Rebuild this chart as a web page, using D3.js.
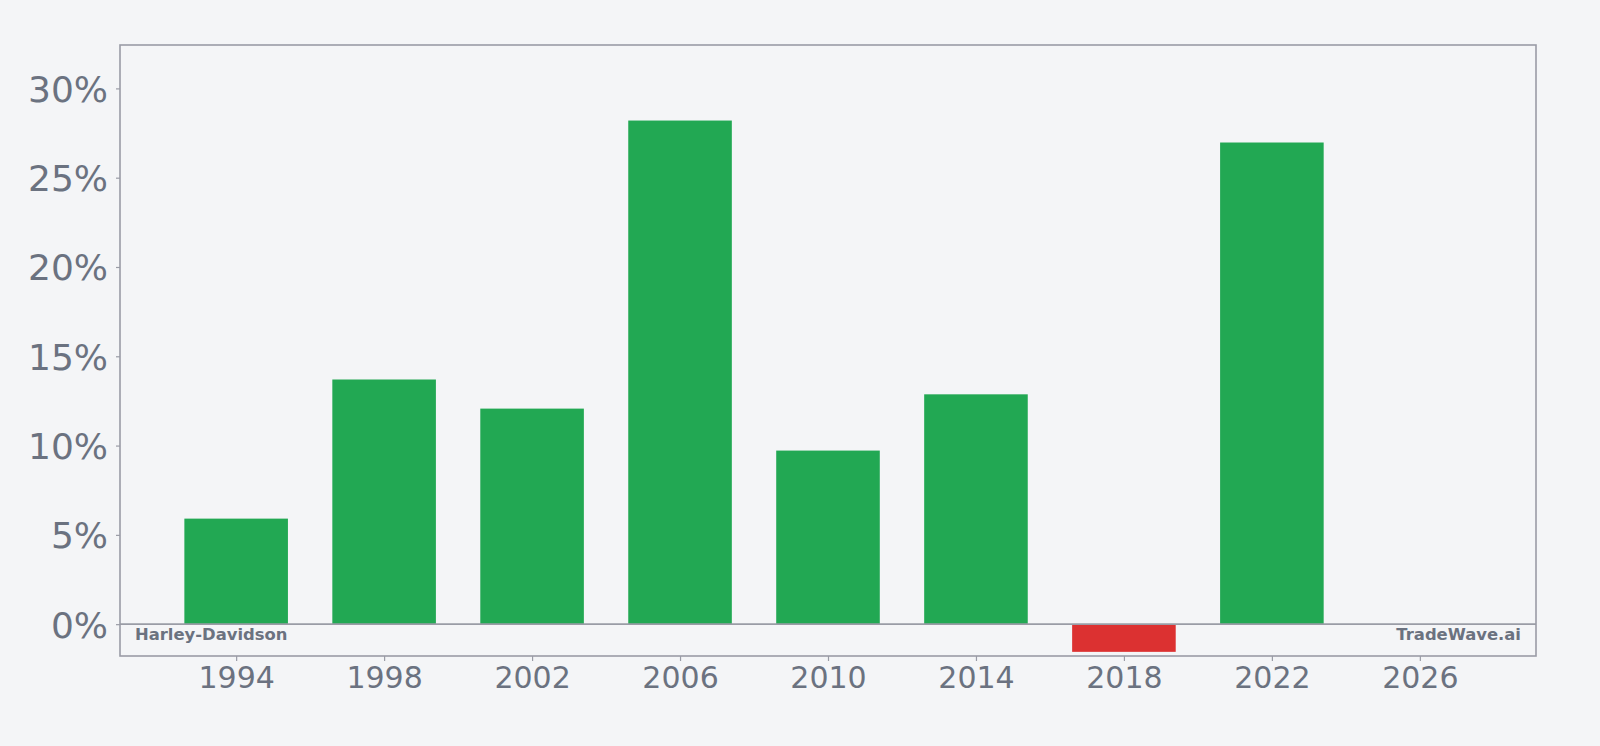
<!DOCTYPE html>
<html>
<head>
<meta charset="utf-8">
<script src="https://cdn.jsdelivr.net/npm/d3@7"></script>
<style>
  html, body { margin: 0; padding: 0; background: #f4f5f7; }
  svg { display: block; font-family: "DejaVu Sans", sans-serif; }
</style>
</head>
<body>
<div id="chart"></div>
<script>
// Yearly return data (percent)
const years = [1994, 1998, 2002, 2006, 2010, 2014, 2018, 2022, 2026];
const returns = [5.91, 13.70, 12.07, 28.20, 9.72, 12.87, -1.55, 26.97, 0];
const xTicks = [1994, 1998, 2002, 2006, 2010, 2014, 2018, 2022, 2026];
const yTicks = [0, 5, 10, 15, 20, 25, 30];

const width = 1600, height = 746;
const margin = { top: 45, right: 64, bottom: 90, left: 120 };
const barYears = 2.8;

const svg = d3.select('#chart').append('svg')
    .attr('width', width)
    .attr('height', height);

svg.append('rect').attr('width', width).attr('height', height).attr('fill', '#f4f5f7');

// x domain: bar extents plus 5% padding
const xMin = d3.min(years) - barYears / 2, xMax = d3.max(years) + barYears / 2;
const pad = (xMax - xMin) * 0.05;
const x = d3.scaleLinear()
    .domain([xMin - pad, xMax + pad])
    .range([margin.left, width - margin.right]);

const y = d3.scaleLinear()
    .domain([d3.min(returns) * 1.15, d3.max(returns) * 1.15])
    .range([height - margin.bottom, margin.top]);

const grey = '#6b7280';
const frame = '#9a9ca6';

// bars
svg.selectAll('.bar')
    .data(years.map((yr, i) => ({ yr, v: returns[i] })).filter(d => d.v !== 0))
    .enter().append('rect')
    .attr('class', 'bar')
    .attr('x', d => x(d.yr - barYears / 2))
    .attr('width', d => x(d.yr + barYears / 2) - x(d.yr - barYears / 2))
    .attr('y', d => y(Math.max(0, d.v)))
    .attr('height', d => Math.abs(y(d.v) - y(0)))
    .attr('fill', d => d.v >= 0 ? '#22a853' : '#dc3131');

// zero line
svg.append('line')
    .attr('x1', margin.left).attr('x2', width - margin.right)
    .attr('y1', y(0)).attr('y2', y(0))
    .attr('stroke', frame).attr('stroke-width', 1.6);

// axes
const xAxis = svg.append('g')
    .attr('transform', `translate(0,${height - margin.bottom})`)
    .call(d3.axisBottom(x).tickValues(xTicks).tickFormat(d3.format('d')).tickSize(5).tickPadding(6));
xAxis.selectAll('text').attr('font-size', 30).attr('fill', grey).attr('font-family', 'DejaVu Sans');

const yAxis = svg.append('g')
    .attr('transform', `translate(${margin.left},0)`)
    .call(d3.axisLeft(y).tickValues(yTicks).tickFormat(d => d + '%').tickSize(4).tickPadding(8));
yAxis.selectAll('text').attr('font-size', 36).attr('fill', grey).attr('font-family', 'DejaVu Sans')
    .attr('dy', '0.36em');

[xAxis, yAxis].forEach(a => {
    a.select('.domain').remove();
    a.selectAll('.tick line').attr('stroke', frame).attr('stroke-width', 1.2);
});

// frame
svg.append('rect')
    .attr('x', margin.left).attr('y', margin.top)
    .attr('width', width - margin.left - margin.right)
    .attr('height', height - margin.top - margin.bottom)
    .attr('fill', 'none').attr('stroke', frame).attr('stroke-width', 1.6);

// watermarks
svg.append('text')
    .attr('x', margin.left + 15).attr('y', y(0) + 16)
    .attr('font-size', 16.4).attr('font-weight', 'bold').attr('fill', grey)
    .text('Harley-Davidson');

svg.append('text')
    .attr('x', width - margin.right - 15).attr('y', y(0) + 16)
    .attr('text-anchor', 'end')
    .attr('font-size', 16.4).attr('font-weight', 'bold').attr('fill', grey)
    .text('TradeWave.ai');
</script>
</body>
</html>
